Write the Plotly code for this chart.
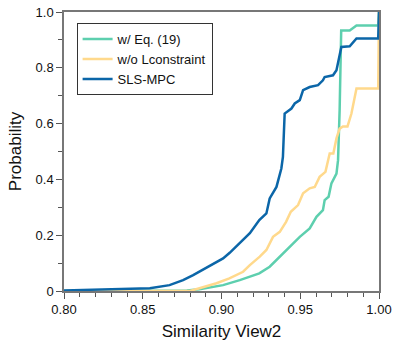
import plotly.graph_objects as go

# (x = similarity, y = cumulative probability)
eq19_x = [0.80, 0.86, 0.878, 0.886, 0.901, 0.9116, 0.918, 0.924, 0.9306, 0.937, 0.943, 0.9497,
          0.956, 0.9603, 0.9644, 0.9655, 0.968, 0.9698, 0.973, 0.974, 0.975, 0.976, 0.9814,
          0.9857, 0.9995, 1.0]
eq19_y = [0.0, 0.0, 0.002, 0.006, 0.021, 0.039, 0.051, 0.063, 0.087, 0.123, 0.153, 0.194,
          0.224, 0.266, 0.29, 0.326, 0.338, 0.386, 0.421, 0.469, 0.648, 0.934, 0.934,
          0.952, 0.952, 1.0]

nolc_x = [0.80, 0.88, 0.886, 0.8968, 0.905, 0.9137, 0.918, 0.9243, 0.9285, 0.9327, 0.937, 0.941,
          0.944, 0.9486, 0.9518, 0.956, 0.9592, 0.9623, 0.966, 0.9687, 0.971, 0.973, 0.975,
          0.9771, 0.980, 0.9825, 0.9857, 0.9995, 1.0]
nolc_y = [0.0, 0.0, 0.01, 0.028, 0.045, 0.069, 0.093, 0.123, 0.147, 0.194, 0.212, 0.248,
          0.284, 0.308, 0.35, 0.368, 0.373, 0.409, 0.427, 0.493, 0.493, 0.547, 0.582,
          0.59, 0.59, 0.636, 0.726, 0.726, 1.0]

sls_x = [0.80, 0.82, 0.84, 0.8545, 0.867, 0.8756, 0.882, 0.889, 0.8957, 0.901, 0.9052, 0.9116,
         0.918, 0.924, 0.9285, 0.9306, 0.9349, 0.938, 0.939, 0.9401, 0.9444, 0.9465, 0.9497,
         0.9518, 0.956, 0.9613, 0.9644, 0.9655, 0.9708, 0.973, 0.975, 0.9761, 0.9814, 0.9857,
         0.9995, 1.0]
sls_y = [0.002, 0.004, 0.007, 0.010, 0.021, 0.039, 0.057, 0.078, 0.099, 0.117, 0.137, 0.171,
         0.207, 0.254, 0.278, 0.332, 0.373, 0.439, 0.481, 0.636, 0.654, 0.672, 0.684,
         0.720, 0.731, 0.738, 0.755, 0.767, 0.773, 0.791, 0.851, 0.875, 0.877, 0.905,
         0.905, 1.0]

x_ticks = [0.80, 0.85, 0.90, 0.95, 1.00]
x_ticktext = ["0.80", "0.85", "0.90", "0.95", "1.00"]
y_ticks = [0, 0.2, 0.4, 0.6, 0.8, 1.0]
y_ticktext = ["0", "0.2", "0.4", "0.6", "0.8", "1.0"]

GREEN = "#5DCFAE"
YELLOW = "#FFD98C"
BLUE = "#0B66A8"
FONT = "Liberation Sans, Arial, sans-serif"

fig = go.Figure()
fig.add_trace(go.Scatter(x=eq19_x, y=eq19_y, mode="lines", name="w/ Eq. (19)",
                         line=dict(color=GREEN, width=2.5)))
fig.add_trace(go.Scatter(x=nolc_x, y=nolc_y, mode="lines", name="w/o Lconstraint",
                         line=dict(color=YELLOW, width=2.5)))
fig.add_trace(go.Scatter(x=sls_x, y=sls_y, mode="lines", name="SLS-MPC",
                         line=dict(color=BLUE, width=2.5)))

fig.update_layout(
    width=398,
    height=346,
    template="none",
    paper_bgcolor="white",
    plot_bgcolor="white",
    font=dict(family=FONT, size=13, color="#111"),
    margin=dict(l=64, r=19, t=12, b=55, autoexpand=False),
    showlegend=True,
    legend=dict(
        x=0.04, y=0.96, xanchor="left", yanchor="top",
        bgcolor="white", bordercolor="#333", borderwidth=1,
        font=dict(size=13, family=FONT),
        itemwidth=30, tracegroupgap=0,
    ),
)
fig.update_xaxes(
    range=[0.8, 1.0], tickvals=x_ticks, ticktext=x_ticktext, automargin=False,
    ticks="outside", ticklen=6, tickcolor="#555", tickwidth=1,
    minor=dict(ticks="outside", dtick=0.01, ticklen=4, tickcolor="#555"),
    showline=True, linecolor="#777", linewidth=1.5, mirror=True,
    showgrid=False, zeroline=False,
    title=dict(text="Similarity View2", font=dict(size=17), standoff=9),
)
fig.update_yaxes(
    range=[0, 1.0], tickvals=y_ticks, ticktext=y_ticktext, automargin=False,
    ticks="outside", ticklen=6, tickcolor="#555", tickwidth=1,
    minor=dict(ticks="outside", dtick=0.1, ticklen=4, tickcolor="#555"),
    showline=True, linecolor="#777", linewidth=1.5, mirror=True,
    showgrid=False, zeroline=False,
    title=dict(text="Probability", font=dict(size=17), standoff=10),
)

fig.write_html("out.html", config={"displayModeBar": False},
               post_script="document.body.style.margin = '0';")
